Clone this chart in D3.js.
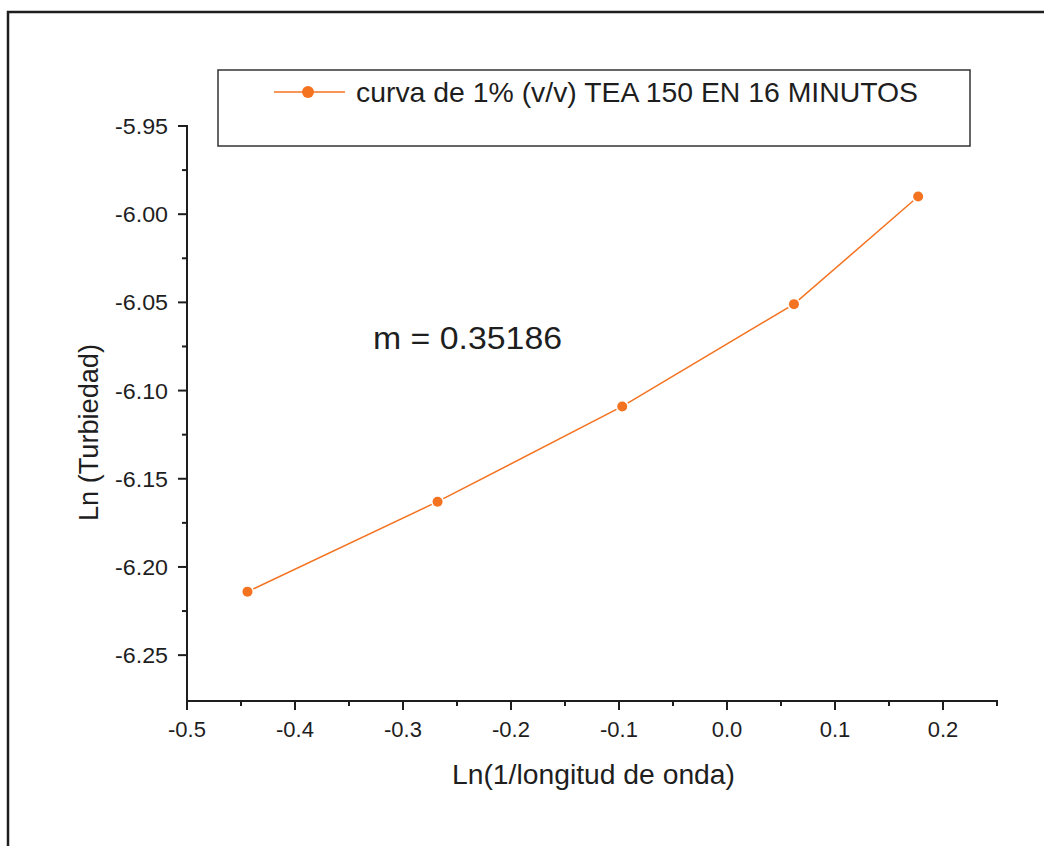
<!DOCTYPE html>
<html>
<head>
<meta charset="utf-8">
<script src="https://cdn.jsdelivr.net/npm/d3@7"></script>
<style>
  body { margin: 0; background: #fff; }
  svg { display: block; font-family: "Liberation Sans", Arial, sans-serif; }
</style>
</head>
<body>
<script>
// data
const xValues = [-0.444, -0.268, -0.097, 0.062, 0.177];
const yValues = [-6.214, -6.163, -6.109, -6.051, -5.990];
const xTicks = [-0.5, -0.4, -0.3, -0.2, -0.1, 0.0, 0.1, 0.2];
const yTicks = [-5.95, -6.00, -6.05, -6.10, -6.15, -6.20, -6.25];
const seriesName = 'curva de 1% (v/v) TEA 150 EN 16 MINUTOS';
const slopeNote = 'm = 0.35186';

const W = 1044, H = 846;
const orange = '#f47321';
const ink = '#1e1e1e';

// plain hyphen for negatives, like the original
const fmt = p => v => d3.format(p)(v).replace('\u2212', '-');

const svg = d3.select('body').append('svg')
  .attr('width', W)
  .attr('height', H);

// outer frame (runs off the right/bottom edges)
svg.append('rect')
  .attr('x', 8).attr('y', 12)
  .attr('width', W + 20).attr('height', H + 20)
  .attr('fill', 'none')
  .attr('stroke', ink)
  .attr('stroke-width', 2.5);

const x = d3.scaleLinear().domain([-0.5, 0.25]).range([187, 997]);
const y = d3.scaleLinear().domain([-5.95, -6.276]).range([126, 701]);

// minor ticks
const xMinor = d3.range(-0.45, 0.26, 0.1).map(v => +v.toFixed(3));
const yMinor = d3.range(-5.975, -6.27, -0.05).map(v => +v.toFixed(3));

const gx = svg.append('g').attr('transform', 'translate(0,701)');
gx.append('line')
  .attr('x1', x(-0.5) - 1).attr('x2', x(0.25) + 1)
  .attr('stroke', ink).attr('stroke-width', 2);
gx.selectAll('.maj').data(xTicks).join('line')
  .attr('x1', d => x(d)).attr('x2', d => x(d))
  .attr('y1', 0).attr('y2', 9)
  .attr('stroke', ink).attr('stroke-width', 2);
gx.selectAll('.min').data(xMinor).join('line')
  .attr('x1', d => x(d)).attr('x2', d => x(d))
  .attr('y1', 0).attr('y2', 5)
  .attr('stroke', ink).attr('stroke-width', 2);
gx.selectAll('text').data(xTicks).join('text')
  .attr('x', d => x(d)).attr('y', 36)
  .attr('text-anchor', 'middle')
  .attr('font-size', 22)
  .attr('fill', ink)
  .text(fmt('.1f'));

const gy = svg.append('g').attr('transform', 'translate(187,0)');
gy.append('line')
  .attr('y1', y(-5.95) - 1).attr('y2', y(-6.276) + 1)
  .attr('stroke', ink).attr('stroke-width', 2);
gy.selectAll('.maj').data(yTicks).join('line')
  .attr('y1', d => y(d)).attr('y2', d => y(d))
  .attr('x1', 0).attr('x2', -9)
  .attr('stroke', ink).attr('stroke-width', 2);
gy.selectAll('.min').data(yMinor).join('line')
  .attr('y1', d => y(d)).attr('y2', d => y(d))
  .attr('x1', 0).attr('x2', -5)
  .attr('stroke', ink).attr('stroke-width', 2);
gy.selectAll('text').data(yTicks).join('text')
  .attr('x', -19).attr('y', d => y(d) + 8)
  .attr('text-anchor', 'end')
  .attr('font-size', 22)
  .attr('textLength', 53)
  .attr('lengthAdjust', 'spacingAndGlyphs')
  .attr('fill', ink)
  .text(fmt('.2f'));

// axis titles
svg.append('text')
  .attr('x', 452).attr('y', 784)
  .attr('font-size', 27)
  .attr('textLength', 283)
  .attr('lengthAdjust', 'spacingAndGlyphs')
  .attr('fill', ink)
  .text('Ln(1/longitud de onda)');
svg.append('text')
  .attr('transform', 'translate(98,521) rotate(-90)')
  .attr('font-size', 27)
  .attr('textLength', 177)
  .attr('lengthAdjust', 'spacingAndGlyphs')
  .attr('fill', ink)
  .text('Ln (Turbiedad)');

// series
const pts = xValues.map((v, i) => [v, yValues[i]]);
svg.append('path')
  .datum(pts)
  .attr('d', d3.line().x(d => x(d[0])).y(d => y(d[1])))
  .attr('fill', 'none')
  .attr('stroke', orange)
  .attr('stroke-width', 1.5);
svg.selectAll('.pt').data(pts).join('circle')
  .attr('cx', d => x(d[0])).attr('cy', d => y(d[1]))
  .attr('r', 5)
  .attr('fill', orange)
  .attr('stroke', '#fff')
  .attr('stroke-width', 3)
  .attr('paint-order', 'stroke');

// slope note
svg.append('text')
  .attr('x', 373).attr('y', 349)
  .attr('font-size', 32)
  .attr('textLength', 189)
  .attr('lengthAdjust', 'spacingAndGlyphs')
  .attr('fill', ink)
  .text(slopeNote);

// legend
const lg = svg.append('g');
lg.append('rect')
  .attr('x', 218).attr('y', 70)
  .attr('width', 752).attr('height', 76)
  .attr('fill', '#fff')
  .attr('stroke', '#333')
  .attr('stroke-width', 1.5);
lg.append('line')
  .attr('x1', 274).attr('x2', 345)
  .attr('y1', 92).attr('y2', 92)
  .attr('stroke', orange).attr('stroke-width', 1.5);
lg.append('circle')
  .attr('cx', 308).attr('cy', 92).attr('r', 6)
  .attr('fill', orange);
lg.append('text')
  .attr('x', 356).attr('y', 102)
  .attr('font-size', 28)
  .attr('textLength', 562)
  .attr('lengthAdjust', 'spacingAndGlyphs')
  .attr('fill', ink)
  .text(seriesName);
</script>
</body>
</html>
